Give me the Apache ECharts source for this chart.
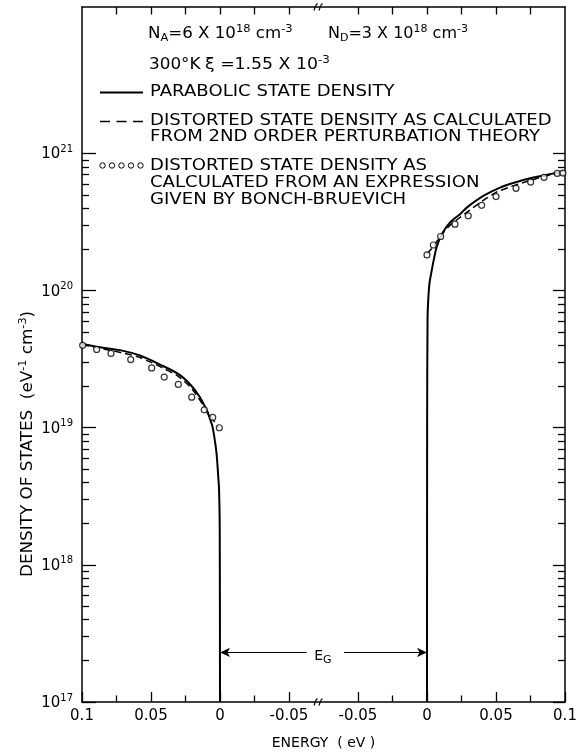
<!DOCTYPE html>
<html><head><meta charset="utf-8">
<script src="https://cdn.jsdelivr.net/npm/echarts@6/dist/echarts.min.js"></script>
<style>html,body{margin:0;padding:0;background:#fff}#c{width:581px;height:755px}</style>
</head><body><div id="c"></div>
<script>
// ---- data (energies in eV, densities in eV^-1 cm^-3) ----
// valence band side (left panel, energy increasing to the left)
const leftEnergy = [0.1, 0.087, 0.0725, 0.058, 0.0435, 0.029, 0.0181, 0.0109, 0.0058, 0.0036, 0.0024, 0.0012, 0.0007, 0.0002, 0];
const leftParabolic = [4.08e19, 3.86e19, 3.68e19, 3.36e19, 2.89e19, 2.42e19, 1.88e19, 1.43e19, 1.05e19, 7.9e18, 6.35e18, 4.3e18, 3.6e18, 1.86e18, 1e17];
const leftPertEnergy = [0.1, 0.09, 0.08, 0.07, 0.06, 0.05, 0.04, 0.03, 0.02, 0.012, 0.006, 0.001];
const leftPert = [4.05e19, 3.85e19, 3.68e19, 3.5e19, 3.3e19, 3.0e19, 2.68e19, 2.36e19, 1.9e19, 1.45e19, 1.18e19, 1.0e19];
const leftBonchEnergy = [0.0995, 0.0894, 0.079, 0.0647, 0.0495, 0.0404, 0.0302, 0.0205, 0.0114, 0.0053, 0.0005];
const leftBonch = [3.99e19, 3.72e19, 3.48e19, 3.14e19, 2.73e19, 2.34e19, 2.07e19, 1.67e19, 1.35e19, 1.19e19, 1.0e19];
// conduction band side (right panel)
const rightEnergy = [0, 0.0001, 0.0004, 0.00094, 0.0018, 0.0034, 0.0046, 0.007, 0.0107, 0.0167, 0.0239, 0.0288, 0.0408, 0.0529, 0.065, 0.077, 0.0891, 0.1];
const rightParabolic = [1e17, 1e19, 6.2e19, 8.71e19, 1.13e20, 1.4e20, 1.62e20, 2.08e20, 2.58e20, 3.14e20, 3.61e20, 4.03e20, 4.9e20, 5.64e20, 6.19e20, 6.67e20, 7.05e20, 7.47e20];
const rightPertEnergy = [0, 0.0046, 0.0099, 0.016, 0.022, 0.03, 0.04, 0.05, 0.06, 0.07, 0.08, 0.09, 0.1];
const rightPert = [1.85e20, 2.1e20, 2.5e20, 2.95e20, 3.3e20, 3.8e20, 4.5e20, 5.2e20, 5.7e20, 6.15e20, 6.6e20, 7.0e20, 7.35e20];
const rightBonchEnergy = [0, 0.0046, 0.0099, 0.0203, 0.0299, 0.0396, 0.05, 0.0645, 0.0751, 0.0848, 0.0944, 0.0985];
const rightBonch = [1.82e20, 2.15e20, 2.48e20, 3.05e20, 3.51e20, 4.19e20, 4.85e20, 5.57e20, 6.19e20, 6.7e20, 7.16e20, 7.2e20];
// tick labels
const xTickLabels = ['0.1', '0.05', '0', '-0.05', '-0.05', '0', '0.05', '0.1'];
const yDecades = [17, 18, 19, 20, 21];
const yMinorDecades = [17, 18, 19, 20];
// energy-gap annotation level
const egLevel = 2.3e17;

// ---- broken axis mapping: one continuous axis coordinate u ----
const leftZero = 0.1, rightZero = 0.25, breakU = 0.171;
const egLeftFrom = 0.1628, egRightFrom = 0.1899, egLabelU = 0.1746;
const toLeft = (E, v) => [leftZero - E, v];
const toRight = (E, v) => [rightZero + E, v];

const FONT = 'DejaVu Sans';
const powers = yDecades.map(p => Math.pow(10, p));
const minors = [];
yMinorDecades.forEach(p => { for (let k = 2; k <= 9; k++) minors.push(k * Math.pow(10, p)); });
const xMinor = [0.025, 0.075, 0.125, 0.225, 0.275, 0.325];
const xAll = [0.025, 0.05, 0.075, 0.1, 0.125, 0.15, 0.2, 0.225, 0.25, 0.275, 0.3, 0.325];

const chart = echarts.init(document.getElementById('c'), null, {renderer: 'canvas'});
const black = '#000';
const axisLine = {show: true, onZero: false, lineStyle: {color: black, width: 1.5}};
const noLine = {show: false, onZero: false};
const X = {min: 0, max: 0.35, type: 'value', splitLine: {show: false}};
const Y = {type: 'log', logBase: 10, min: 1e17, max: 1.17e22, splitLine: {show: false}, minorTick: {show: false}};
const tick = (len, vals) => Object.assign({show: true, inside: true, length: len, lineStyle: {color: black, width: 1.3}}, vals ? {customValues: vals} : {});

const lineSeries = (data, dashed) => ({
  type: 'line', data, xAxisIndex: 0, yAxisIndex: 0, showSymbol: false, symbol: 'none',
  smooth: 0.3, silent: true,
  lineStyle: {color: black, width: dashed ? 1.5 : 2, type: dashed ? [7, 4] : 'solid'}, z: 3
});
const dotSeries = (data) => ({
  type: 'scatter', data, xAxisIndex: 0, yAxisIndex: 0, symbol: 'circle', symbolSize: 6, silent: true,
  itemStyle: {color: '#fff', borderColor: black, borderWidth: 1.2}, z: 5
});

const option = {
  animation: false,
  backgroundColor: '#fff',
  grid: {left: 82, right: 16, top: 7, bottom: 50},
  xAxis: [
    Object.assign({}, X, {position: 'bottom', axisLine, axisTick: tick(10),
      interval: 0.05,
      axisLabel: {show: true, margin: 7, color: black, fontFamily: FONT, fontSize: 15,
        formatter: v => xTickLabels[Math.round(v / 0.05)]},
      name: 'ENERGY  ( eV )', nameLocation: 'middle', nameGap: 34,
      nameTextStyle: {color: black, fontFamily: FONT, fontSize: 14}}),
    Object.assign({}, X, {position: 'bottom', axisLine: noLine, axisLabel: {show: false}, axisTick: tick(6.5, xMinor)}),
    Object.assign({}, X, {position: 'top', axisLine, axisLabel: {show: false}, axisTick: tick(7.5, xAll)})
  ],
  yAxis: [
    Object.assign({}, Y, {position: 'left', axisLine, axisTick: tick(14, powers),
      axisLabel: {show: true, customValues: powers, margin: 9, color: black,
        formatter: v => '{b|10}{s|' + Math.round(Math.log10(v)) + '}',
        rich: {b: {fontFamily: FONT, fontSize: 15, color: black, padding: [2, 0, 0, 0]},
               s: {fontFamily: FONT, fontSize: 10, color: black, padding: [0, 0, 8, 0]}}}}),
    Object.assign({}, Y, {position: 'left', axisLine: noLine, axisLabel: {show: false}, axisTick: tick(7, minors)}),
    Object.assign({}, Y, {position: 'right', axisLine, axisLabel: {show: false}, axisTick: tick(12, powers)}),
    Object.assign({}, Y, {position: 'right', axisLine: noLine, axisLabel: {show: false}, axisTick: tick(7, minors)})
  ],
  series: [
    lineSeries(leftEnergy.map((e, i) => toLeft(e, leftParabolic[i])), false),
    lineSeries(leftPertEnergy.map((e, i) => toLeft(e, leftPert[i])), true),
    dotSeries(leftBonchEnergy.map((e, i) => toLeft(e, leftBonch[i]))),
    lineSeries(rightEnergy.map((e, i) => toRight(e, rightParabolic[i])), false),
    lineSeries(rightPertEnergy.map((e, i) => toRight(e, rightPert[i])), true),
    dotSeries(rightBonchEnergy.map((e, i) => toRight(e, rightBonch[i]))),
    {type: 'line', data: [], xAxisIndex: 0, yAxisIndex: 0, silent: true,
      markLine: {silent: true, symbol: ['none', 'arrow'], symbolSize: [7, 10], label: {show: false},
        lineStyle: {color: black, width: 1.2, type: 'solid'}, emphasis: {disabled: true},
        data: [
          [{coord: [egLeftFrom, egLevel]}, {coord: [leftZero, egLevel]}],
          [{coord: [egRightFrom, egLevel]}, {coord: [rightZero, egLevel]}]
        ]}}
  ]
};
chart.setOption(option);

// ---- annotations: legend block, axis title, break marks, E_G label ----
const SX = 1.13;
const richLegend = {
  t: {fontFamily: FONT, fontSize: 16, fill: black, color: black},
  sup: {fontFamily: FONT, fontSize: 11, fill: black, color: black, padding: [0, 0, 9, 0]},
  sub: {fontFamily: FONT, fontSize: 11, fill: black, color: black, padding: [9, 0, 0, 0]}
};
const txt = (x, y, text, sx) => ({type: 'text', x, y, scaleX: sx || SX, silent: true,
  style: {text, rich: richLegend, fontFamily: FONT, fontSize: 16, fill: black, align: 'left', verticalAlign: 'middle'}});

const gfx = [
  txt(148, 34, '{t|N}{sub|A}{t|=6 X 10}{sup|18}{t| cm}{sup|-3}', 1.04),
  txt(328, 34, '{t|N}{sub|D}{t|=3 X 10}{sup|18}{t| cm}{sup|-3}', 1.0),
  txt(149, 65, '{t|300°K}', 1.05),
  txt(205, 65, '{t|ξ =1.55 X 10}{sup|-3}', 1.08),
  txt(150, 92, '{t|PARABOLIC STATE DENSITY}'),
  txt(150, 121, '{t|DISTORTED STATE DENSITY AS CALCULATED}'),
  txt(150, 137, '{t|FROM 2ND ORDER PERTURBATION THEORY}'),
  txt(150, 166, '{t|DISTORTED STATE DENSITY AS}'),
  txt(150, 183, '{t|CALCULATED FROM AN EXPRESSION}'),
  txt(150, 200, '{t|GIVEN BY BONCH-BRUEVICH}'),
  {type: 'line', silent: true, shape: {x1: 100, y1: 92.5, x2: 143, y2: 92.5}, style: {stroke: black, lineWidth: 2}},
  {type: 'line', silent: true, shape: {x1: 100, y1: 121.5, x2: 143, y2: 121.5}, style: {stroke: black, lineWidth: 1.5, lineDash: [10, 6.5]}},
  {type: 'text', silent: true, x: 28, y: 577, rotation: Math.PI / 2, scaleX: 1.12,
    style: {text: '{t|DENSITY OF STATES  (eV}{sup|-1}{t| cm}{sup|-3}{t|)}',
      rich: {t: {fontFamily: FONT, fontSize: 15, fill: black}, sup: {fontFamily: FONT, fontSize: 10, fill: black, padding: [0, 0, 9, 0]}},
      align: 'left', verticalAlign: 'middle'}}
];
for (let i = 0; i < 5; i++) {
  gfx.push({type: 'circle', silent: true, shape: {cx: 102.5 + i * 9.5, cy: 165.5, r: 2.7}, style: {fill: '#fff', stroke: black, lineWidth: 1}});
}
const pBot = chart.convertToPixel({gridIndex: 0}, [breakU, 1e17]);
const pTop = chart.convertToPixel({gridIndex: 0}, [breakU, 1.17e22]);
[pBot, pTop].forEach(p => {
  [-2.5, 2.5].forEach(d => {
    gfx.push({type: 'polyline', silent: true, shape: {points: [[p[0] + d - 1.5, p[1] + 3.5], [p[0] + d + 0.5, p[1] - 2], [p[0] + d + 2, p[1] - 3.5]]},
      style: {stroke: black, lineWidth: 1.1, fill: null}});
  });
});
const pEG = chart.convertToPixel({gridIndex: 0}, [egLabelU, egLevel]);
gfx.push({type: 'text', silent: true, x: pEG[0], y: pEG[1] + 4,
  style: {text: '{e|E}{g|G}', rich: {e: {fontFamily: FONT, fontSize: 14, fill: black}, g: {fontFamily: FONT, fontSize: 11, fill: black, padding: [7, 0, 0, 0]}},
    align: 'center', verticalAlign: 'middle'}});
chart.setOption({graphic: gfx});
</script>
</body></html>
